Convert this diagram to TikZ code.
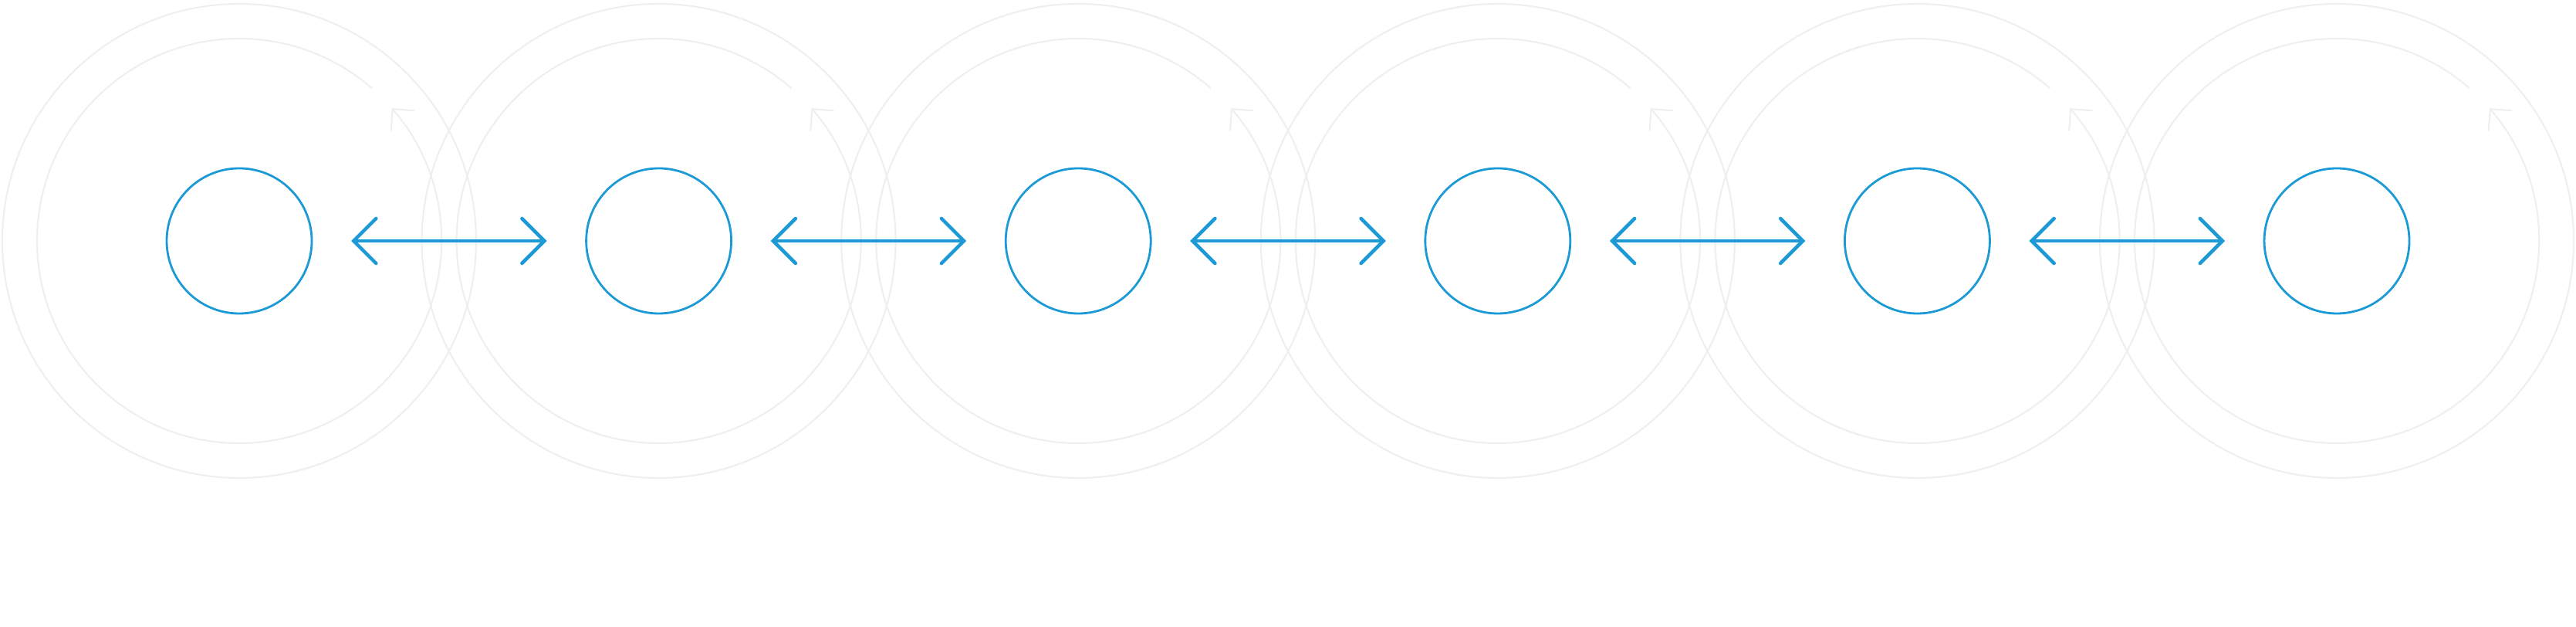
\documentclass[tikz,border=0pt]{standalone}
\usetikzlibrary{arrows.meta}
\definecolor{ringgray}{HTML}{EFEFEF}
\definecolor{linkblue}{HTML}{1B9AD6}
\tikzset{
  ring/.style={ringgray,line width=0.6pt},
  cell/.style={circle,draw=linkblue,line width=0.8pt,minimum size=1.88cm,inner sep=0pt},
  link/.style={linkblue,line width=1.3pt,line cap=round,line join=round,
    {Straight Barb[length=0.29cm,width=0.58cm,line cap=round]}-{Straight Barb[length=0.29cm,width=0.58cm,line cap=round]}}
}
\begin{document}
\begin{tikzpicture}
  \useasboundingbox (0,0) rectangle (33.38,8.11);
  \foreach \i in {1,...,6} {
    \coordinate (c\i) at ({3.10+(\i-1)*5.436},4.99);
    \draw[ring] (c\i) circle (3.07);
    \draw[ring,-{Straight Barb[length=0.2cm,width=0.4cm]}] ([shift={(49:2.62)}]c\i) arc (49:401:2.62);
    \node[cell] (n\i) at (c\i) {};
  }
  \foreach \i [evaluate=\i as \j using int(\i+1)] in {1,...,5} {
    \coordinate (l\i) at ([xshift=1.45cm]c\i);
    \coordinate (r\i) at ([xshift=-1.45cm]c\j);
    \draw[link] (l\i) -- (r\i);
  }
\end{tikzpicture}
\end{document}
